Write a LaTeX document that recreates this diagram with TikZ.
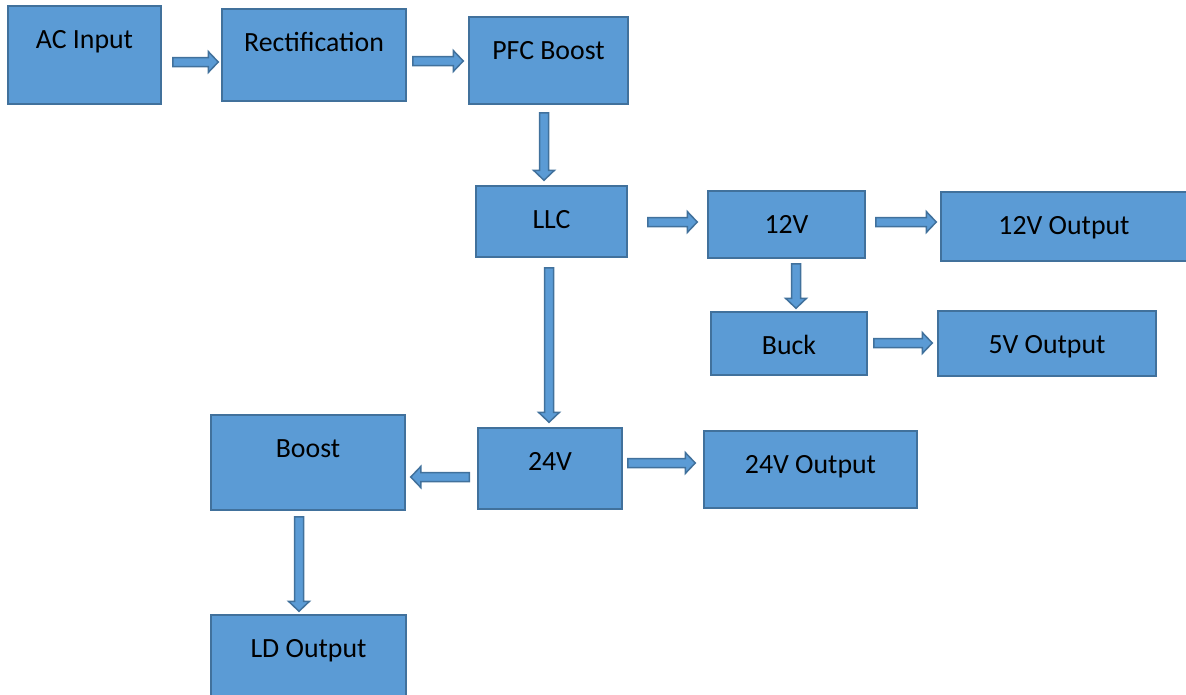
\documentclass[tikz,border=0pt]{standalone}
\usepackage{fontspec}
\setmainfont{Carlito}
\usetikzlibrary{calc}

\definecolor{boxfill}{HTML}{5B9BD5}
\definecolor{boxline}{HTML}{41719C}

\tikzset{
  block/.style={draw=boxline,fill=boxfill,line width=1.5pt,inner sep=0pt},
  blocktext/.style={anchor=base,yshift=-43pt,inner sep=0pt,font=\fontsize{27.8}{33}\selectfont},
  blockarrow/.style={draw=boxline,fill=boxfill,line width=1.5pt,line join=miter,
    to path={let \p1=($(\tikztotarget)-(\tikztostart)$),\n1={atan2(\y1,\x1)},\n2={veclen(\x1,\y1)-10pt} in
      (\tikztostart) ++(\n1+90:4.5pt) -- ++(\n1:\n2) -- ++(\n1+90:6pt) -- (\tikztotarget)
      -- ($(\tikztotarget)+(\n1+180:10pt)+(\n1-90:10.5pt)$) -- ++(\n1+90:6pt) -- ++(\n1+180:\n2) -- cycle}}
}

\begin{document}
\begin{tikzpicture}[x=1pt,y=-1pt]
\useasboundingbox (0,0) rectangle (1186,694);
\clip (0,0) rectangle (1186,694);

% blocks: name/x/y/width/height/text
\foreach \n/\x/\y/\w/\h/\t in {ac/84.5/55/153/98/AC Input,
    rect/314/55/184/92/Rectification,
    pfc/548.5/60.5/159/87/PFC Boost,
    llc/551.5/221.5/151/71/LLC,
    v12/786.5/224.5/157/67/12V,
    out12/1064/226.5/246/69/12V Output,
    buck/789/343.5/156/63/Buck,
    out5/1047/343.5/218/65/5V Output,
    boost/308/462.5/194/95/Boost,
    v24/550/468.5/144/81/24V,
    out24/810.5/469.5/213/77/24V Output,
    ld/308.5/660/195/90/LD Output}
  \node[block,minimum width=\w,minimum height=\h,label={[blocktext]north:\t}] (\n) at (\x,\y) {};

% arrows
\draw[blockarrow] ([xshift=11pt,yshift=-7pt]ac.east) to ([xshift=-3pt,yshift=-7pt]rect.west);
\draw[blockarrow] ([xshift=6pt,yshift=-6pt]rect.east) to ([xshift=-5pt,yshift=-0.5pt]pfc.west);
\draw[blockarrow] ([xshift=-4.5pt,yshift=-8pt]pfc.south) to ([xshift=-7.5pt,yshift=5pt]llc.north);
\draw[blockarrow] ([xshift=20pt,yshift=-0.5pt]llc.east) to ([xshift=-10pt,yshift=2.5pt]v12.west);
\draw[blockarrow] ([xshift=10pt,yshift=2.5pt]v12.east) to ([xshift=-4pt,yshift=4.5pt]out12.west);
\draw[blockarrow] ([xshift=9.5pt,yshift=-5pt]v12.south) to ([xshift=7pt,yshift=3pt]buck.north);
\draw[blockarrow] ([xshift=6pt,yshift=0.5pt]buck.east) to ([xshift=-5pt,yshift=0.5pt]out5.west);
\draw[blockarrow] ([xshift=-2.5pt,yshift=-10pt]llc.south) to ([xshift=-1pt,yshift=5pt]v24.north);
\draw[blockarrow] ([xshift=-8pt,yshift=-8.5pt]v24.west) to ([xshift=5pt,yshift=-14.5pt]boost.east);
\draw[blockarrow] ([xshift=5pt,yshift=5.5pt]v24.east) to ([xshift=-8pt,yshift=6.5pt]out24.west);
\draw[blockarrow] ([xshift=-9pt,yshift=-6pt]boost.south) to ([xshift=-9.5pt,yshift=3pt]ld.north);

\end{tikzpicture}
\end{document}
